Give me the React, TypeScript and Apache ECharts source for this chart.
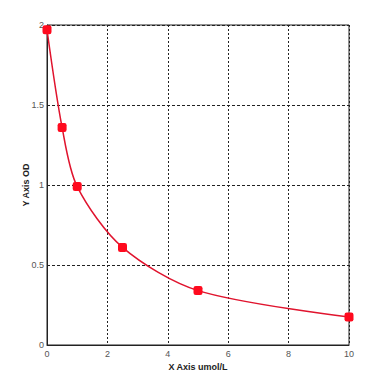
import React, { useEffect, useRef } from "react";
import * as echarts from "echarts";

const xValues = [0, 0.5, 1, 2.5, 5, 10];
const yValues = [1.97, 1.36, 0.99, 0.61, 0.34, 0.175];
const xTicks = [0, 2, 4, 6, 8, 10];
const yTicks = [0, 0.5, 1, 1.5, 2];

export default function App() {
  const ref = useRef<HTMLDivElement>(null);
  useEffect(() => {
    if (!ref.current) return;
    const chart = echarts.init(ref.current, undefined, { renderer: "svg" });
    const pts = xValues.map((x, i) => [x, yValues[i]]);
    const font = "Liberation Sans";
    chart.setOption({
      animation: false,
      backgroundColor: "#ffffff",
      grid: {
        left: 47,
        right: 35,
        top: 25,
        bottom: 39,
        show: true,
        borderColor: "#222",
        borderWidth: 1,
        backgroundColor: "transparent",
      },
      xAxis: {
        type: "value",
        min: xTicks[0],
        max: xTicks[xTicks.length - 1],
        interval: 2,
        name: "X Axis umol/L",
        nameLocation: "middle",
        nameGap: 17,
        nameMoveOverlap: false,
        nameTextStyle: { fontFamily: font, fontSize: 9, fontWeight: "bold", color: "#222" },
        axisLine: { show: true, lineStyle: { color: "#222", width: 1 } },
        axisTick: { show: false },
        axisLabel: { fontFamily: font, fontSize: 9, color: "#555", margin: 4 },
        splitLine: { show: true, lineStyle: { color: "#222", type: [2, 2], width: 1 } },
      },
      yAxis: {
        type: "value",
        min: yTicks[0],
        max: yTicks[yTicks.length - 1],
        interval: 0.5,
        name: "Y Axis OD",
        nameLocation: "middle",
        nameRotate: 90,
        nameGap: 17,
        nameMoveOverlap: false,
        nameTextStyle: { fontFamily: font, fontSize: 9, fontWeight: "bold", color: "#222" },
        axisLine: { show: true, lineStyle: { color: "#222", width: 1 } },
        axisTick: { show: false },
        axisLabel: { fontFamily: font, fontSize: 9, color: "#555", margin: 3 },
        splitLine: { show: true, lineStyle: { color: "#222", type: [3, 2], width: 1 } },
      },
      series: [
        {
          type: "line",
          data: pts,
          smooth: 0.3,
          symbol: "roundRect",
          symbolSize: 9,
          itemStyle: { color: "#ff0a1e" },
          lineStyle: { color: "#e0142e", width: 1.5 },
          z: 3,
        },
      ],
    });
    return () => chart.dispose();
  }, []);
  return (
    <div
      ref={ref}
      style={{ position: "fixed", left: 0, top: 0, width: 384, height: 384 }}
    />
  );
}
